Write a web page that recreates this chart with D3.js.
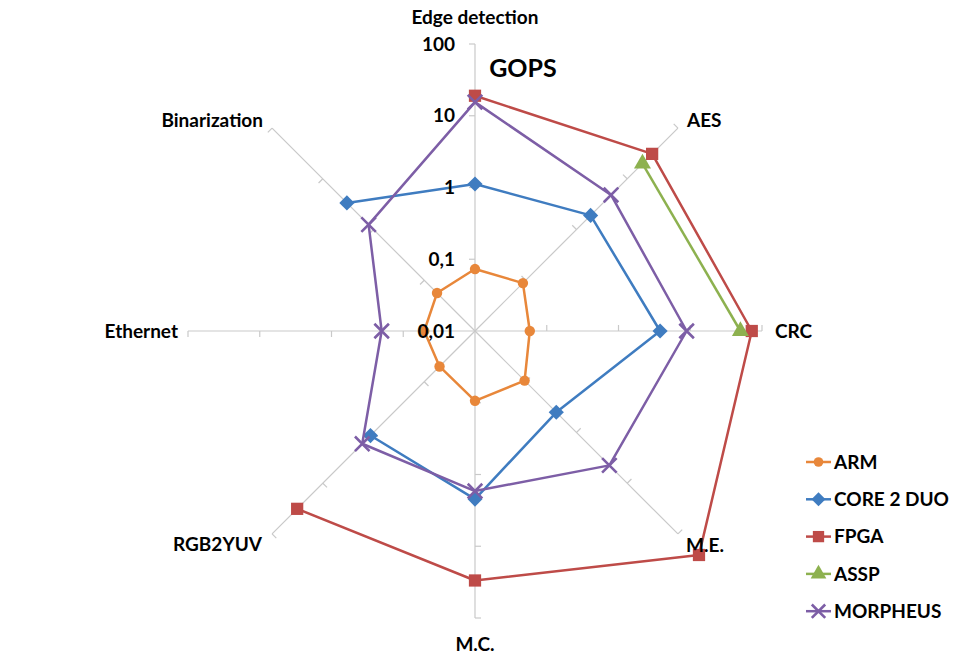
<!DOCTYPE html>
<html>
<head>
<meta charset="utf-8">
<script src="https://cdn.jsdelivr.net/npm/d3@7"></script>
<style>
  html, body { margin: 0; padding: 0; background: #fff; }
  svg { display: block; }
  text { font-family: Lato, "Open Sans", sans-serif; font-weight: bold; fill: #000; }
</style>
</head>
<body>
<svg id="chart" width="970" height="655"></svg>
<script>
// Benchmark categories, clockwise from the top
const categories = ["Edge detection", "AES", "CRC", "M.E.", "M.C.", "RGB2YUV", "Ethernet", "Binarization"];

// GOPS per platform (null = not measured)
const armValues      = [0.073, 0.088, 0.058, 0.095, 0.094, 0.05, 0.051, 0.056];
const core2duoValues = [1.12, 1.9, 3.8, 0.40, 2.2, 1.15, null, 3.35];
const fpgaValues     = [19, 31, 72, 260, 30, 32, null, null];
const asspValues     = [null, 20, 50, null, null, null, null, null];
const morpheusValues = [15.5, 4.8, 8.9, 4.45, 1.7, 1.67, 0.2, 1.25];

const seriesNames = ["ARM", "CORE 2 DUO", "FPGA", "ASSP", "MORPHEUS"];
const tickValues = [0.01, 0.1, 1, 10, 100];
const tickLabels = ["0,01", "0,1", "1", "10", "100"];

const seriesColors = ["#E8873A", "#3F7CC0", "#BE4B48", "#8DB14F", "#7D5EA6"];
const seriesMarkers = ["circle", "diamond", "square", "triangle", "cross"];

const series = seriesNames.map((name, i) => ({
  name,
  values: [armValues, core2duoValues, fpgaValues, asspValues, morpheusValues][i],
  color: seriesColors[i],
  marker: seriesMarkers[i]
}));

const svg = d3.select("#chart");
const cx = 475, cy = 331, R = 287;

const r = d3.scaleLog().domain([0.01, 100]).range([0, R]);
const angle = d3.scalePoint().domain(categories).range([0, 2 * Math.PI * (categories.length - 1) / categories.length]);

function pos(cat, v) {
  const a = angle(cat);
  const rr = r(v);
  return [cx + rr * Math.sin(a), cy - rr * Math.cos(a)];
}

// Spokes with tick marks
const grid = svg.append("g");
categories.forEach(cat => {
  const a = angle(cat);
  const [x2, y2] = pos(cat, 100);
  grid.append("line")
    .attr("x1", cx).attr("y1", cy).attr("x2", x2).attr("y2", y2)
    .attr("stroke", "#c9c9c9").attr("stroke-width", 1.2);
  // ticks point counter-clockwise, perpendicular to the spoke
  const tx = -Math.cos(a) * 6, ty = -Math.sin(a) * 6;
  tickValues.slice(1).forEach(v => {
    const [x, y] = pos(cat, v);
    grid.append("line")
      .attr("x1", x).attr("y1", y).attr("x2", x + tx).attr("y2", y + ty)
      .attr("stroke", "#c9c9c9").attr("stroke-width", 1.2);
  });
});

// Series lines, broken where a value is missing
const line = d3.line()
  .defined(d => d.v != null)
  .x(d => pos(d.cat, d.v)[0])
  .y(d => pos(d.cat, d.v)[1]);

// Equal-sided diamond (a square turned by 45 degrees)
const symbolRhombus = {
  draw(ctx, size) {
    const h = Math.sqrt(size / 2);
    ctx.moveTo(0, -h); ctx.lineTo(h, 0); ctx.lineTo(0, h); ctx.lineTo(-h, 0); ctx.closePath();
  }
};
const symbolTypes = {
  circle: d3.symbolCircle,
  diamond: symbolRhombus,
  square: d3.symbolSquare,
  triangle: d3.symbolTriangle,
  cross: d3.symbolX
};
const symbolSizes = { circle: 85, diamond: 115, square: 150, triangle: 125, cross: 140 };

function drawMarker(g, s, x, y, scale) {
  const sym = d3.symbol().type(symbolTypes[s.marker]).size(symbolSizes[s.marker] * (scale || 1));
  const p = g.append("path").attr("d", sym()).attr("transform", `translate(${x},${y})`);
  if (s.marker === "cross") {
    p.attr("fill", "none").attr("stroke", s.color).attr("stroke-width", 2.6);
  } else {
    p.attr("fill", s.color).attr("stroke", "none");
  }
}

const plot = svg.append("g");
series.forEach(s => {
  const pts = categories.map((cat, i) => ({ cat, v: s.values[i] }));
  const closed = pts.concat([pts[0]]);
  plot.append("path")
    .attr("d", line(closed))
    .attr("fill", "none")
    .attr("stroke", s.color)
    .attr("stroke-width", 2.5)
    .attr("stroke-linejoin", "round");
  pts.forEach(d => {
    if (d.v == null) return;
    const [x, y] = pos(d.cat, d.v);
    drawMarker(plot, s, x, y);
  });
});

// Value axis labels along the top spoke
const ticksG = svg.append("g");
tickValues.forEach((v, i) => {
  const [x, y] = pos(categories[0], v);
  ticksG.append("text")
    .attr("x", x - 20).attr("y", y)
    .attr("dy", "0.35em")
    .attr("text-anchor", "end")
    .attr("font-size", 19)
    .text(tickLabels[i]);
});

svg.append("text")
  .attr("x", 523).attr("y", 68).attr("dy", "0.35em")
  .attr("text-anchor", "middle")
  .attr("font-size", 25)
  .text("GOPS");

// Category labels
const catLabelPos = [
  { x: 475, y: 17, anchor: "middle" },
  { x: 687, y: 120, anchor: "start" },
  { x: 775, y: 331, anchor: "start" },
  { x: 686, y: 545, anchor: "start" },
  { x: 475, y: 644, anchor: "middle" },
  { x: 262, y: 544, anchor: "end" },
  { x: 178, y: 331, anchor: "end" },
  { x: 263, y: 120, anchor: "end" }
];
categories.forEach((cat, i) => {
  const p = catLabelPos[i];
  svg.append("text")
    .attr("x", p.x).attr("y", p.y).attr("dy", "0.35em")
    .attr("text-anchor", p.anchor)
    .attr("font-size", 19)
    .text(cat);
});

// Legend
const legend = svg.append("g");
series.forEach((s, i) => {
  const y = 462 + i * 37.3;
  legend.append("line")
    .attr("x1", 806).attr("x2", 831).attr("y1", y).attr("y2", y)
    .attr("stroke", s.color).attr("stroke-width", 2.5);
  drawMarker(legend, s, 818.5, y, 0.85);
  legend.append("text")
    .attr("x", 834).attr("y", y).attr("dy", "0.35em")
    .attr("font-size", 19)
    .text(s.name);
});
</script>
</body>
</html>
